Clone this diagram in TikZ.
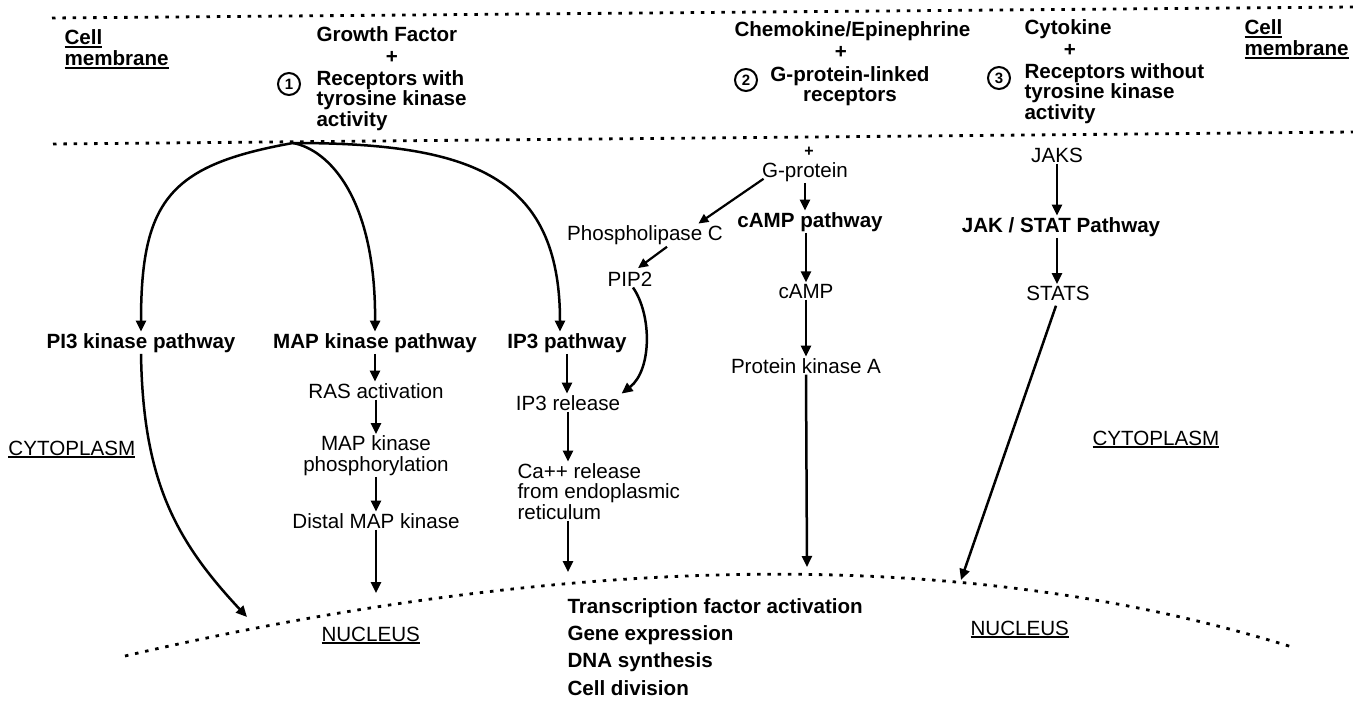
\documentclass[tikz,border=0pt]{standalone}
\usepackage{fontspec}
\setmainfont{Liberation Sans}
\usetikzlibrary{arrows.meta,calc}
\newsavebox\ulbox
\newcommand\ulx[1]{\sbox\ulbox{#1}\rlap{\rule[-3.2pt]{\wd\ulbox}{1.8pt}}\usebox\ulbox}
\begin{document}
\begin{tikzpicture}[x=1pt,y=-1pt,
  lab/.style={inner sep=0pt,outer sep=1.5pt,font=\fontsize{20.6}{20.5}\selectfont},
  blab/.style={lab,font=\fontsize{20.6}{20.5}\selectfont\bfseries},
  arr/.style={line width=2.5pt,-{Triangle[length=11pt,width=10pt]}},
  sarr/.style={line width=2.2pt,-{Triangle[length=10pt,width=9pt]}},
  dots/.style={line width=2.8pt,dash pattern=on 3.5pt off 6.8pt},
  num/.style={circle,draw,line width=2pt,minimum size=22pt,inner sep=0pt,font=\fontsize{15}{15}\selectfont\bfseries}]
\useasboundingbox (0,0) rectangle (1353,701);

% membrane lines
\coordinate (m1a) at (52,18); \coordinate (m1b) at (1353,7);
\coordinate (m2a) at (53,144); \coordinate (m2b) at (1353,132);
\draw[dots] (m1a) -- (m1b);
\draw[dots] (m2a) -- (m2b);
\coordinate (hub) at (293,143);

% membrane region texts (base anchor = baseline of last line)
\node[blab,anchor=base west,align=left] (cellL) at (63,65.5) {\ulx{Cell}\\\ulx{membrane}};
\node[blab,anchor=base west] (growth) at (315,42) {Growth Factor};
\node[blab,anchor=base] (plus1) at (392,64) {+};
\node[num] (n1) at (289,84) {1};
\node[blab,anchor=base west,align=left] (rec1) at (315,126) {Receptors with\\tyrosine kinase\\activity};

\node[blab,anchor=base west] (chemo) at (733,37) {Chemokine/Epinephrine};
\node[blab,anchor=base] (plus2) at (841,59) {+};
\node[num] (n2) at (746,80) {2};
\node[blab,anchor=base,align=center] (gpl) at (850,102) {G-protein-linked\\receptors};

\node[blab,anchor=base west] (cyto) at (1023,35) {Cytokine};
\node[blab,anchor=base] (plus3) at (1070,57) {+};
\node[num] (n3) at (999,78) {3};
\node[blab,anchor=base west,align=left] (rec3) at (1023,119) {Receptors without\\tyrosine kinase\\activity};
\node[blab,anchor=base west,align=left] (cellR) at (1243,55.5) {\ulx{Cell}\\\ulx{membrane}};

% pathways
\node[blab,anchor=base] (pi3) at (141,348) {PI3 kinase pathway};
\node[blab,anchor=base] (mapp) at (375,348) {MAP kinase pathway};
\node[blab,anchor=base] (ip3) at (567,348) {IP3 pathway};
\draw[arr] (hub) .. controls (170,165) and (141,200) .. (pi3.north);
\draw[arr] (hub) .. controls (330,150) and (376,200) .. (mapp.north);
\draw[arr] (hub) .. controls (470,143) and (560,175) .. ($(ip3.north)+(-7,0)$);

% MAP chain
\node[lab,anchor=base] (ras) at (376,398) {RAS activation};
\node[lab,anchor=base,align=center] (mapk) at (376,471) {MAP kinase\\phosphorylation};
\node[lab,anchor=base] (distal) at (376,528) {Distal MAP kinase};
\coordinate (mapEnd) at (376,593);
\draw[arr] (mapp.south) -- (mapp.south |- ras.north);
\draw[arr] (ras.south) -- (ras.south |- mapk.north);
\draw[arr] (mapk.south) -- (mapk.south |- distal.north);
\draw[arr] (distal.south) -- (mapEnd);

% PI3 to nucleus
\coordinate (pi3End) at (247,617);
\draw[arr] (pi3.south) .. controls (143,480) and (175,540) .. (pi3End);

% IP3 chain
\node[lab,anchor=base] (ip3r) at (568,410) {IP3 release};
\node[lab,anchor=base west,align=left] (ca) at (516,519) {Ca++ release\\from endoplasmic\\reticulum};
\coordinate (caEnd) at (568,572);
\draw[arr] (ip3.south) -- (ip3.south |- ip3r.north);
\draw[arr] (ip3r.south) -- (ip3r.south |- ca.north);
\draw[arr] (ca.south -| ip3r.south) -- (caEnd);

% G-protein
\node[lab,anchor=base,outer sep=0pt] (plusg) at (809,157) {\fontsize{16}{16}\selectfont\bfseries +};
\node[lab,anchor=base] (gprot) at (805,177) {G-protein};
\node[lab,anchor=base] (plc) at (645,240) {Phospholipase C};
\node[lab,anchor=base] (pip2) at (630,286) {PIP2};
\draw[sarr] ($(gprot.south west)+(3,-4)$) -- ($(plc.north east)+(-26,0)$);
\draw[sarr] ($(plc.south)+(22,1)$) -- ($(pip2.north)+(8,-2)$);
\draw[arr] ($(pip2.south)+(3,0)$) .. controls (652,315) and (652,370) .. (ip3r.north east);

% cAMP
\node[blab,anchor=base] (campp) at (810,227) {cAMP pathway};
\node[lab,anchor=base] (camp) at (806,298) {cAMP};
\node[lab,anchor=base] (pka) at (806,373) {Protein kinase A};
\coordinate (pkaEnd) at (807,567);
\draw[arr] (gprot.south) -- (gprot.south |- campp.north);
\draw[arr] (camp.north |- campp.south) -- (camp.north);
\draw[arr] (camp.south) -- (camp.south |- pka.north);
\draw[arr] (pka.south) -- (pkaEnd);

% JAK / STAT
\node[lab,anchor=base] (jaks) at (1057,162) {JAKS};
\node[blab,anchor=base] (jak) at (1061,232) {JAK / STAT Pathway};
\node[lab,anchor=base] (stats) at (1058,300) {STATS};
\coordinate (statsEnd) at (961,580);
\draw[arr] (jaks.south) -- (jaks.south |- jak.north);
\draw[arr] (jaks.south |- jak.south) -- (jaks.south |- stats.north);
\draw[arr] ($(stats.south)+(-2,4)$) -- (statsEnd);

% region labels
\node[lab,anchor=base west] (cytL) at (7,455) {\ulx{CYTOPLASM}};
\node[lab,anchor=base west] (cytR) at (1091,445) {\ulx{CYTOPLASM}};
\node[lab,anchor=base west] (nucL) at (320,641) {\ulx{NUCLEUS}};
\node[lab,anchor=base west] (nucR) at (969,635) {\ulx{NUCLEUS}};

% nucleus boundary
\coordinate (nA) at (125,656); \coordinate (nB) at (1292,647);
\draw[dots] (nA) .. controls (582,550) and (971,547) .. (nB);

% nucleus outcomes
\node[blab,anchor=base west,align=left,font=\fontsize{20.6}{27.3}\selectfont\bfseries] (tf) at (566,695) {Transcription factor activation\\Gene expression\\DNA synthesis\\Cell division};
\end{tikzpicture}
\end{document}
